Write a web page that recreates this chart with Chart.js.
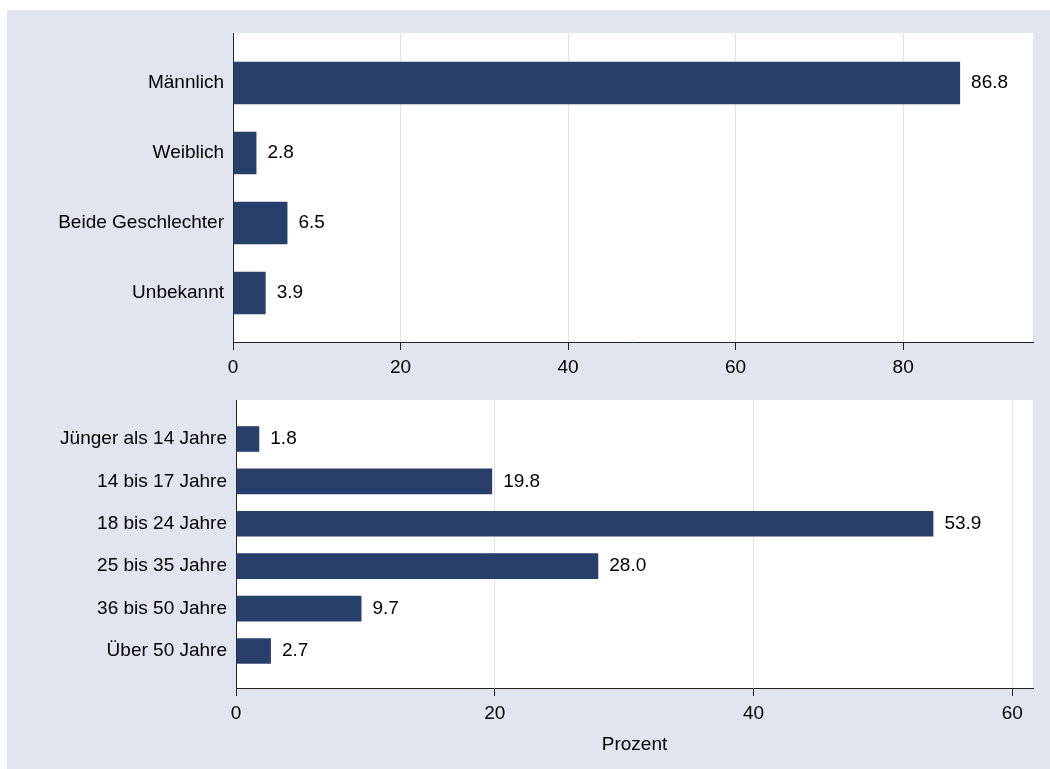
<!DOCTYPE html>
<html>
<head>
<meta charset="utf-8">
<script src="https://cdn.jsdelivr.net/npm/chart.js@4.4.1/dist/chart.umd.min.js"></script>
<style>
  body { margin: 0; background: #fff; }
  #frame { position: absolute; left: 7px; top: 10px; width: 1043px; height: 759px; background: #e1e5ef; }
  canvas { position: absolute; left: 0; }
  #sex { top: 0; }
  #age { top: 390px; }
</style>
</head>
<body>
<div id="frame"></div>
<canvas id="sex" width="1050" height="390"></canvas>
<canvas id="age" width="1050" height="379"></canvas>
<script>
const genderLabels = ['Männlich', 'Weiblich', 'Beide Geschlechter', 'Unbekannt'];
const genderValues = [86.8, 2.8, 6.5, 3.9];
const genderTicks = [0, 20, 40, 60, 80];

const ageLabels = ['Jünger als 14 Jahre', '14 bis 17 Jahre', '18 bis 24 Jahre', '25 bis 35 Jahre', '36 bis 50 Jahre', 'Über 50 Jahre'];
const ageValues = [1.8, 19.8, 53.9, 28.0, 9.7, 2.7];
const ageTicks = [0, 20, 40, 60];

const FONT = "'Liberation Sans', Arial, sans-serif";
Chart.defaults.font.family = FONT;
Chart.defaults.font.size = 19;
Chart.defaults.color = '#000';

// white plot region
const plotBg = {
  id: 'plotBg',
  beforeDraw(chart) {
    const { ctx, chartArea: a } = chart;
    ctx.save();
    ctx.fillStyle = '#fff';
    ctx.fillRect(a.left, a.top, a.right - a.left, a.bottom - a.top);
    ctx.restore();
  }
};

// numbers behind the bars
const valueLabels = {
  id: 'valueLabels',
  afterDatasetsDraw(chart) {
    const ctx = chart.ctx;
    const ds = chart.data.datasets[0];
    ctx.save();
    ctx.font = '19px ' + FONT;
    ctx.fillStyle = '#000';
    ctx.textBaseline = 'middle';
    chart.getDatasetMeta(0).data.forEach((bar, i) => {
      ctx.fillText(ds.data[i].x.toFixed(1), bar.x + 11, bar.y);
    });
    ctx.restore();
  }
};

function makeChart(id, labels, values, ticks, o) {
  return new Chart(document.getElementById(id), {
    type: 'bar',
    data: {
      datasets: [{
        data: values.map((v, i) => ({ x: v, y: i })),
        backgroundColor: '#293f6b',
        borderWidth: 0,
        categoryPercentage: 1,
        barPercentage: 0.605
      }]
    },
    options: {
      indexAxis: 'y',
      responsive: false,
      animation: false,
      layout: { padding: { top: o.padTop, right: 17, left: 0, bottom: 0 } },
      plugins: { legend: { display: false }, tooltip: { enabled: false } },
      scales: {
        x: {
          type: 'linear',
          min: 0,
          max: o.xMax,
          afterBuildTicks: s => { s.ticks = ticks.map(v => ({ value: v })); },
          afterFit: s => { s.height = o.axisH; },
          grid: {
            color: c => (c.tick && c.tick.value === 0) ? 'rgba(0,0,0,0)' : '#dde1ee',
            tickColor: '#222',
            tickLength: 8
          },
          border: { color: '#222', width: 1 },
          ticks: { padding: 6, maxRotation: 0 },
          title: {
            display: !!o.title,
            text: o.title,
            padding: { top: 0, bottom: 13 }
          }
        },
        y: {
          type: 'linear',
          offset: false,
          reverse: true,
          min: o.yMin,
          max: o.yMax,
          afterBuildTicks: s => { s.ticks = labels.map((_, i) => ({ value: i })); },
          afterFit: s => { s.width = o.axisW; s.paddingTop = 0; s.paddingBottom = 0; },
          grid: { display: false, drawTicks: false, offset: false },
          border: { display: true, color: '#222', width: 1 },
          ticks: { padding: 9, callback: v => labels[v] }
        }
      }
    },
    plugins: [plotBg, valueLabels]
  });
}

makeChart('sex', genderLabels, genderValues, genderTicks,
  { xMax: 95.5, yMin: -0.714, yMax: 3.70, axisW: 233, axisH: 48, padTop: 33 });

makeChart('age', ageLabels, ageValues, ageTicks,
  { xMax: 61.6, yMin: -0.92, yMax: 5.873, axisW: 236, axisH: 81, padTop: 10, title: 'Prozent' });
</script>
</body>
</html>
